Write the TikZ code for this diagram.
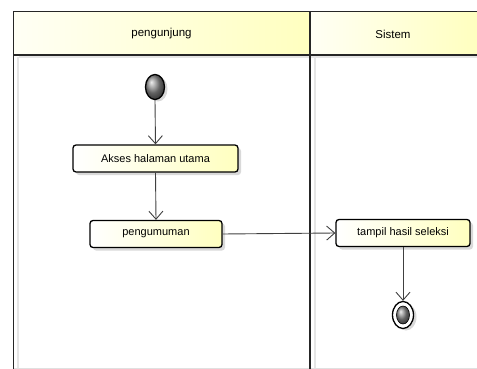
\documentclass[tikz,border=0pt]{standalone}
\usepackage{fontspec}
\setmainfont{Liberation Sans}
\usetikzlibrary{arrows.meta,shadows,shapes.geometric}
\begin{document}
\begin{tikzpicture}[x=1pt,y=-1pt]
\tikzset{laneframe/.style={line width=1.8pt,black!85}}

\tikzset{laneshade/.style={line width=2pt,black!10}}

\tikzset{action/.style={
rectangle,rounded corners=3pt,draw,black,line width=1.3pt,
left color=white,right color=yellow!25,
drop shadow={shadow xshift=3pt,shadow yshift=-3pt,fill=black!15,opacity=1},
minimum height=27pt,
font=\fontsize{11}{13}\selectfont,
align=center}}

\tikzset{flow/.style={
draw,black!75,line width=0.9pt,
-{Straight Barb[length=8pt,width=14pt,line width=0.9pt]}}}

\tikzset{startnode/.style={
ellipse,draw,black,line width=1.3pt,
ball color=black!45,
minimum width=19pt,minimum height=25pt,inner sep=0pt,
drop shadow={shadow xshift=3pt,shadow yshift=-2pt,fill=black!15,opacity=1}}}

\tikzset{endnode/.style={
ellipse,draw,black,line width=1.3pt,fill=white,
minimum width=21pt,minimum height=27pt,inner sep=0pt,
drop shadow={shadow xshift=3pt,shadow yshift=-2pt,fill=black!15,opacity=1}}}

\useasboundingbox (0,0) rectangle (477,369);

\fill[left color=yellow!4,right color=yellow!25] (13.5,11.5) rectangle (310,55);
\fill[left color=yellow!4,right color=yellow!25] (310,11.5) rectangle (477,55);
\draw[laneshade] (19,57.5) -- (477,57.5);
\draw[laneshade] (18,57.5) -- (18,369);
\draw[laneshade] (315,57.5) -- (315,369);
\draw[black!12,line width=1pt] (13.5,368) -- (477,368);

\draw[laneframe] (477,11.5) -- (13.5,11.5) -- (13.5,369);
\draw[laneframe] (13.5,55) -- (477,55);
\draw[laneframe] (310,11.5) -- (310,369);

\node[font=\fontsize{11.5}{13}\selectfont,name=lanePengunjung] at (161.5,34) {pengunjung};
\node[font=\fontsize{11.5}{13}\selectfont,name=laneSistem] at (393,34) {Sistem};

\node[startnode,name=uStart] at (155,87) {};

\node[action,minimum width=165pt,name=uAkses] at (155.5,158.5) {Akses halaman utama};

\node[action,minimum width=132pt,name=uPengumuman] at (156,234) {pengumuman};

\node[action,minimum width=134pt,name=uTampil] at (403,233) {tampil hasil seleksi};

\node[endnode,name=uEnd] at (403,315) {};
\node[ellipse,draw,black,line width=0.6pt,ball color=black!45,
minimum width=13pt,minimum height=18pt,inner sep=0pt,name=uEndDot] at (uEnd.center) {};

\draw[flow] (uStart.south) -- (uAkses.north);
\draw[flow] (uAkses.south) -- (uPengumuman.north);
\draw[flow] (uPengumuman.east) -- (uTampil.west);
\draw[flow] (uTampil.south) -- (uEnd.north);

\end{tikzpicture}
\end{document}
